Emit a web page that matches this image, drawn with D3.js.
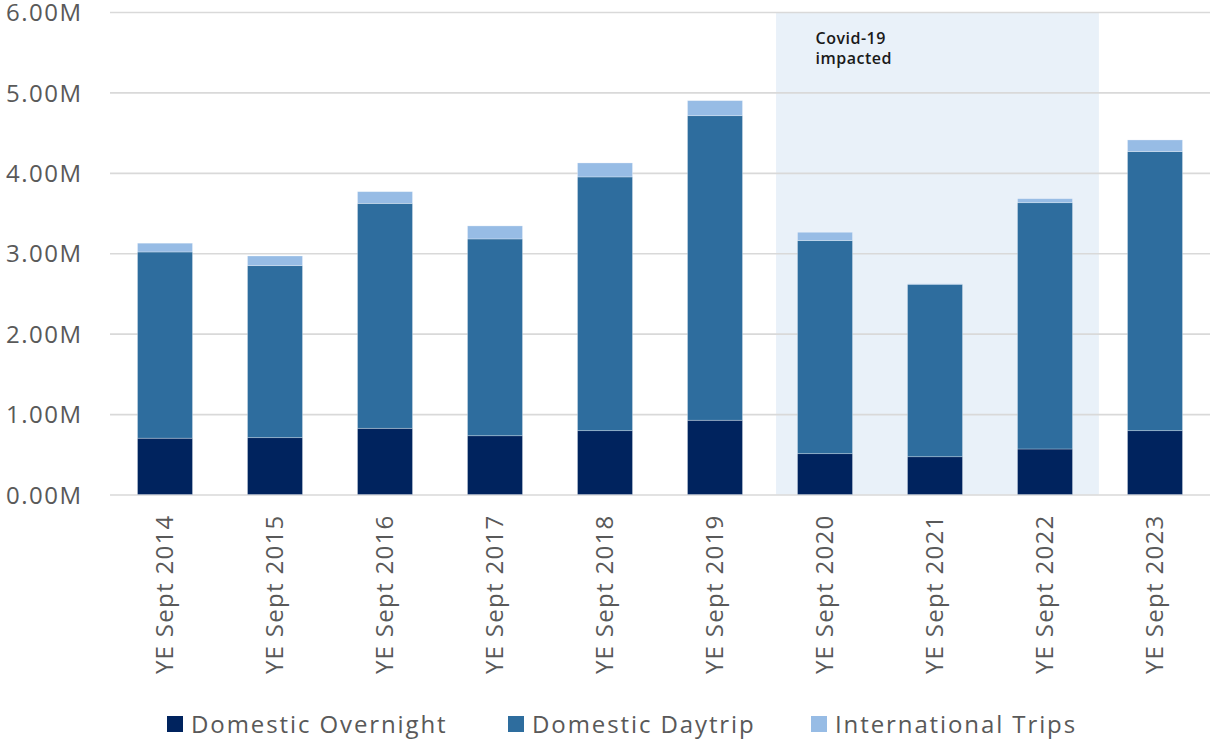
<!DOCTYPE html>
<html>
<head>
<meta charset="utf-8">
<script src="https://cdn.jsdelivr.net/npm/d3@7"></script>
<style>
  body { margin: 0; background: #fff; }
  svg { display: block; }
  svg text { font-family: "Open Sans", sans-serif; }
  .tick text { fill: #595959; }
</style>
</head>
<body>
<svg></svg>
<script>
var width = 1215;
var height = 743;

var margin = {left: 110, top: 12, right: 5, bottom: 248.5};

// data (millions of trips)
var categories = ["YE Sept 2014", "YE Sept 2015", "YE Sept 2016", "YE Sept 2017", "YE Sept 2018",
  "YE Sept 2019", "YE Sept 2020", "YE Sept 2021", "YE Sept 2022", "YE Sept 2023"];
var overnight = [0.70, 0.707, 0.823, 0.731, 0.794, 0.923, 0.508, 0.470, 0.566, 0.794];
var daytrip = [2.316, 2.139, 2.797, 2.447, 3.155, 3.788, 2.649, 2.144, 3.063, 3.470];
var international = [0.109, 0.120, 0.146, 0.162, 0.174, 0.187, 0.104, 0.006, 0.050, 0.145];
var seriesNames = ["Domestic Overnight", "Domestic Daytrip", "International Trips"];
var seriesColours = ["#00235e", "#2e6d9e", "#97bce5"];
var yTicks = [0, 1, 2, 3, 4, 5, 6];
var covidRange = ["YE Sept 2020", "YE Sept 2022"];

var rows = categories.map(function(c, i){
  return {cat: c, "Domestic Overnight": overnight[i], "Domestic Daytrip": daytrip[i], "International Trips": international[i]};
});

var svg = d3.select("svg").attr("width", width).attr("height", height);

var x = d3.scaleBand()
  .domain(categories)
  .range([margin.left, width - margin.right])
  .paddingInner(0.5)
  .paddingOuter(0.25);

var y = d3.scaleLinear()
  .domain([0, 6])
  .range([height - margin.bottom, margin.top]);

var colours = d3.scaleOrdinal().domain(seriesNames).range(seriesColours);

// covid shaded band
var step = x.step();
svg.append("rect")
  .attr("x", x(covidRange[0]) - step * 0.195)
  .attr("y", y(6))
  .attr("width", x(covidRange[1]) + x.bandwidth() + step * 0.24 - (x(covidRange[0]) - step * 0.195))
  .attr("height", y(0) - y(6))
  .attr("fill", "#e9f1f9");

var covidText = svg.append("text")
  .attr("y", 44)
  .style("font-size", "16px")
  .style("font-weight", 600)
  .style("letter-spacing", "0.5px")
  .style("fill", "#1a1a1a");
covidText.append("tspan").attr("x", x(covidRange[0]) + 18).text("Covid-19");
covidText.append("tspan").attr("x", x(covidRange[0]) + 18).attr("dy", 20).text("impacted");

// y axis with gridlines
var yAxis = d3.axisLeft(y)
  .tickValues(yTicks)
  .tickFormat(function(d){ return d.toFixed(2) + "M"; })
  .tickSize(-(width - margin.left - margin.right))
  .tickPadding(27.5);

var yDraw = svg.append("g")
  .attr("transform", "translate(" + margin.left + ",0)")
  .call(yAxis);
yDraw.attr("font-family", null);
yDraw.select(".domain").remove();
yDraw.selectAll(".tick line").attr("stroke", "#d9d9d9").attr("stroke-width", 1.6);
yDraw.selectAll(".tick text")
  .style("font-size", "24px")
  .style("letter-spacing", "1.5px")
  .attr("dy", "0.36em");

// stacked bars
var stack = d3.stack().keys(seriesNames);
var layers = svg.append("g").selectAll("g")
  .data(stack(rows))
  .enter()
  .append("g")
  .attr("fill", function(d){ return colours(d.key); });

layers.selectAll("rect")
  .data(function(d){ return d; })
  .enter()
  .append("rect")
  .attr("x", function(d){ return x(d.data.cat); })
  .attr("y", function(d){ return y(d[1]); })
  .attr("width", x.bandwidth())
  .attr("height", function(d){ return y(d[0]) - y(d[1]); })
  .attr("stroke", "rgba(255,255,255,0.35)")
  .attr("stroke-width", 0.8);

// x axis labels, rotated
var xAxis = d3.axisBottom(x).tickSize(0).tickPadding(0);
var xDraw = svg.append("g")
  .attr("transform", "translate(0," + y(0) + ")")
  .call(xAxis);
xDraw.attr("font-family", null);
xDraw.select(".domain").remove();
xDraw.selectAll(".tick text")
  .style("font-size", "24px")
  .style("letter-spacing", "1.3px")
  .attr("text-anchor", "end")
  .attr("transform", "rotate(-90)")
  .attr("x", -20)
  .attr("y", 0)
  .attr("dy", "0.35em");

// legend
var legendX = [167, 508, 811];
var legend = svg.append("g").selectAll("g")
  .data(seriesNames)
  .enter()
  .append("g")
  .attr("transform", function(d, i){ return "translate(" + legendX[i] + ",716)"; });
legend.append("rect")
  .attr("width", 16)
  .attr("height", 16)
  .attr("fill", function(d){ return colours(d); });
legend.append("text")
  .attr("x", 24)
  .attr("y", 8)
  .attr("dy", "0.36em")
  .style("font-size", "24px")
  .style("letter-spacing", "1.9px")
  .style("fill", "#595959")
  .text(function(d){ return d; });
</script>
</body>
</html>
